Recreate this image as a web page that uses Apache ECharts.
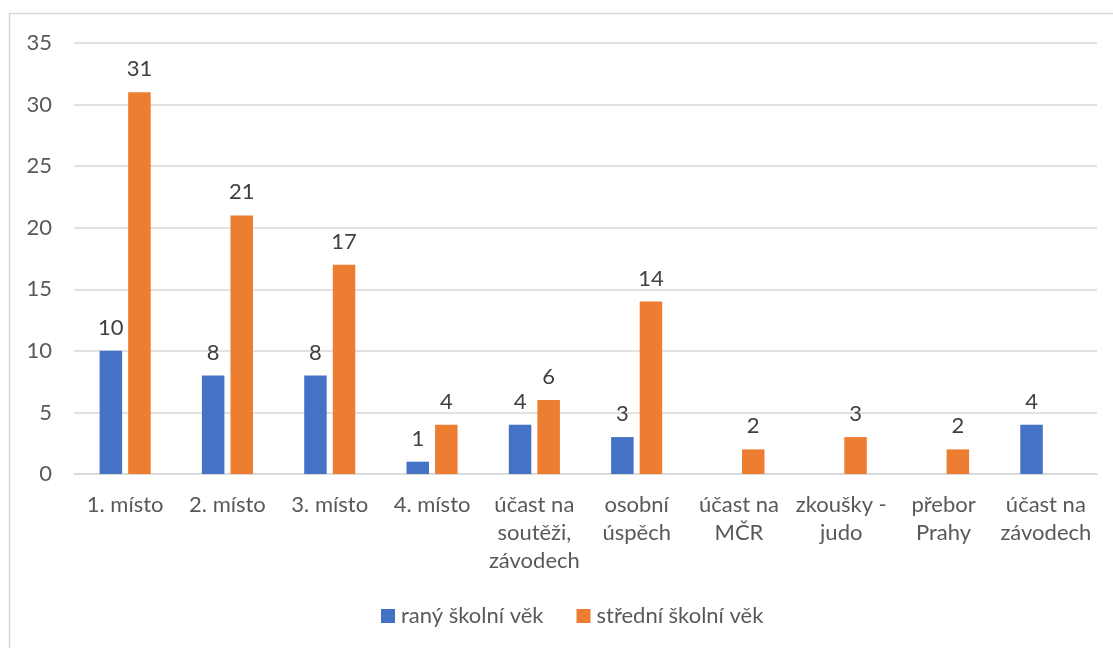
<!DOCTYPE html>
<html>
<head>
<meta charset="utf-8">
<title>Úspěchy</title>
<script src="https://cdn.jsdelivr.net/npm/echarts@6/dist/echarts.min.js"></script>
<style>
  html, body { margin: 0; padding: 0; background: #fff; }
  #chart { width: 1113px; height: 648px; }
</style>
</head>
<body>
<div id="chart"></div>
<script>
// data
const categories = ['1. místo', '2. místo', '3. místo', '4. místo', 'účast na soutěži, závodech',
  'osobní úspěch', 'účast na MČR', 'zkoušky - judo', 'přebor Prahy', 'účast na závodech'];
const ranyVek = [10, 8, 8, 1, 4, 3, null, null, null, 4];
const stredniVek = [31, 21, 17, 4, 6, 14, 2, 3, 2, null];
const seriesNames = ['raný školní věk', 'střední školní věk'];

const FONT = 'Lato, "Liberation Sans", sans-serif';
const FS = 22;

// greedy word wrap, at most 9 chars per line (like the Excel labels)
function wrap(text) {
  const lines = [];
  let cur = '';
  text.split(' ').forEach(w => {
    if (cur && (cur + ' ' + w).length > 9) {
      lines.push(cur);
      cur = w;
    } else {
      cur = cur ? cur + ' ' + w : w;
    }
  });
  lines.push(cur);
  return lines.join('\n');
}

const chart = echarts.init(document.getElementById('chart'));

const labelStyle = {
  show: true,
  position: 'top',
  distance: 12,
  color: '#404040',
  fontSize: FS,
  fontFamily: FONT
};

chart.setOption({
  animation: false,
  graphic: [{
    type: 'rect',
    shape: { x: 9.5, y: 13.5, width: 1200, height: 700 },
    style: { fill: 'none', stroke: '#d9d9d9', lineWidth: 1.5 },
    silent: true
  }],
  grid: { left: 74, right: 16, top: 43, bottom: 174 },
  legend: {
    bottom: 16,
    left: 376,
    itemWidth: 14,
    itemHeight: 14,
    itemGap: 33,
    icon: 'rect',
    textStyle: { color: '#595959', fontSize: FS, fontFamily: FONT, padding: [0, 0, 0, 1] },
    data: seriesNames
  },
  xAxis: {
    type: 'category',
    data: categories,
    axisLine: { lineStyle: { color: '#d9d9d9', width: 1.5 } },
    axisTick: { show: false },
    axisLabel: {
      interval: 0,
      margin: 17,
      color: '#595959',
      fontSize: FS,
      fontFamily: FONT,
      lineHeight: 28,
      formatter: wrap
    }
  },
  yAxis: {
    type: 'value',
    min: 0,
    max: 35,
    interval: 5,
    axisLine: { show: false },
    axisTick: { show: false },
    splitLine: { lineStyle: { color: '#d9d9d9', width: 1.5 } },
    axisLabel: { color: '#595959', fontSize: FS, fontFamily: FONT, margin: 22 }
  },
  series: [
    {
      name: seriesNames[0],
      type: 'bar',
      data: ranyVek,
      barWidth: '22%',
      barGap: '27%',
      itemStyle: { color: '#4472c4' },
      label: labelStyle
    },
    {
      name: seriesNames[1],
      type: 'bar',
      data: stredniVek,
      barWidth: '22%',
      barGap: '27%',
      itemStyle: { color: '#ed7d31' },
      label: labelStyle
    }
  ]
});
</script>
</body>
</html>
